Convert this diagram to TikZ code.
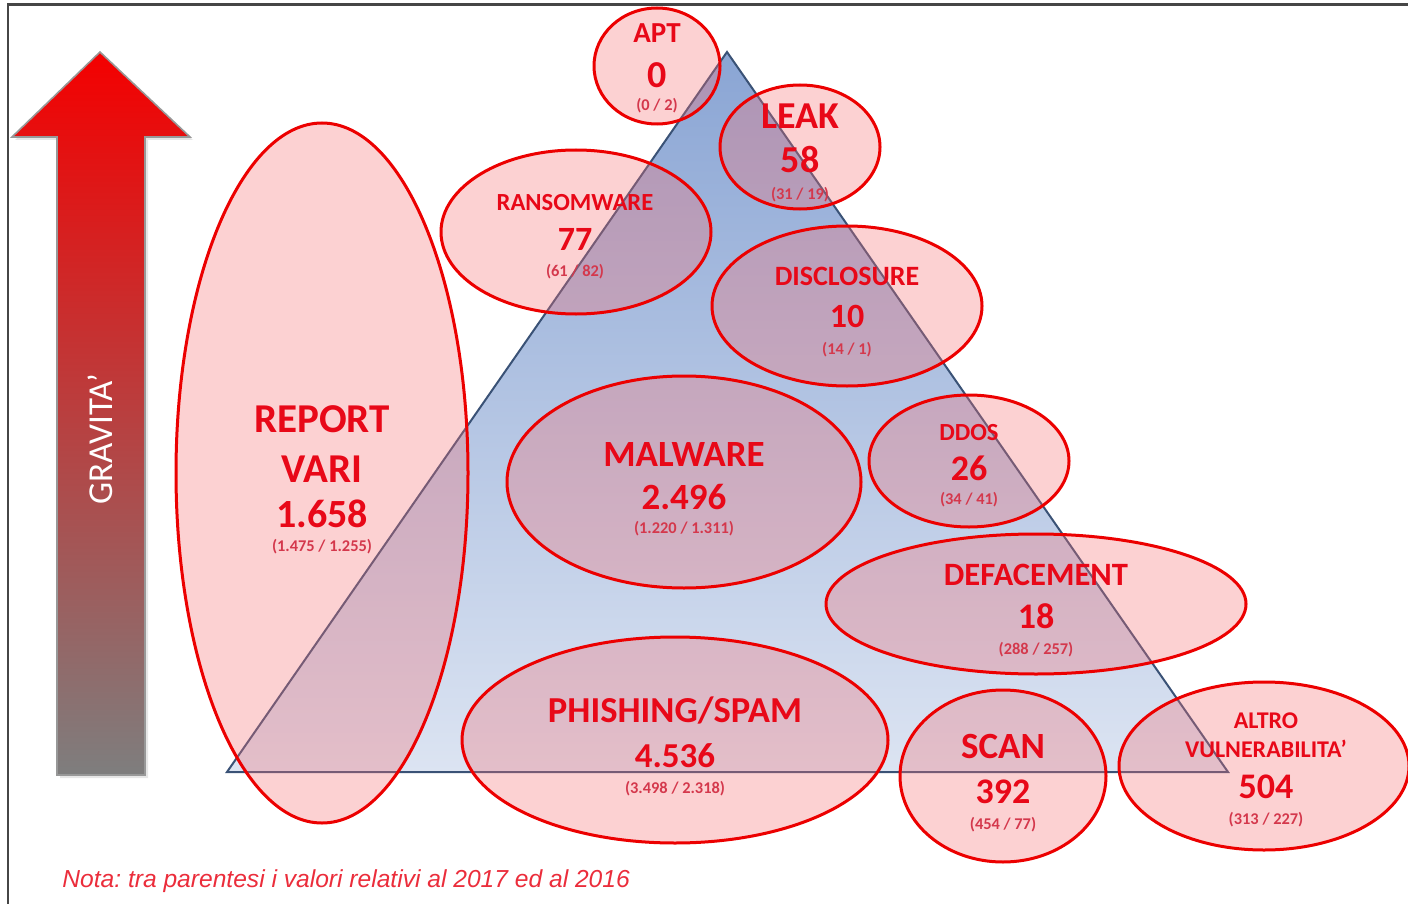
\documentclass[tikz,border=0pt]{standalone}
\usepackage{fontspec}
\setmainfont{Carlito}
\newfontfamily\notefont{Liberation Sans}
\usetikzlibrary{shapes.geometric,shadows}
\definecolor{certRed}{RGB}{232,8,24}
\definecolor{certSoft}{RGB}{212,56,76}
\definecolor{certLine}{RGB}{236,0,0}
\definecolor{certPink}{RGB}{245,112,116}
\definecolor{pyrTop}{RGB}{138,165,212}
\definecolor{pyrBottom}{RGB}{220,228,242}
\definecolor{pyrEdge}{RGB}{58,82,118}
\definecolor{arrowRed}{RGB}{244,0,0}
\definecolor{arrowGray}{RGB}{126,126,126}
\definecolor{frameInk}{RGB}{70,70,70}
\tikzset{
  cert oval/.style={ellipse, draw=certLine, line width=1.5pt, fill=certPink,
    fill opacity=0.32, inner sep=0pt},
  cert label/.style={font=\bfseries\fontsize{#1}{#1}\selectfont, text=certRed,
    inner sep=0pt, anchor=base},
  cert label/.default=17,
  cert prev/.style={font=\bfseries\fontsize{8.2}{8.2}\selectfont, text=certSoft,
    inner sep=0pt, anchor=base},
  cert note/.style={font=\notefont\itshape\fontsize{12.3}{12.3}\selectfont\frenchspacing,
    text=certRed!85, inner sep=0pt, anchor=base west}
}

\begin{document}
\begin{tikzpicture}[x=0.5pt,y=-0.5pt]
  \useasboundingbox (0,0) rectangle (1408,904);
  \draw[frameInk, line width=1.2pt] (8,904) |- (1408,4.5);

  % severity arrow
  \shadedraw[top color=arrowRed, bottom color=arrowGray, draw=arrowGray!80,
    line width=0.8pt, drop shadow={opacity=0.2, shadow xshift=1.5pt, shadow yshift=-1.5pt}]
    (100,52) -- (190,137) -- (145,137) -- (145,775) -- (57,775) -- (57,137)
    -- (12,137) -- cycle;
  \node[rotate=90, text=white, font=\fontsize{17.5}{17.5}\selectfont, inner sep=0pt]
    (gravity) at (100,439) {GRAVITA'};

  % pyramid
  \shadedraw[top color=pyrTop, bottom color=pyrBottom, draw=pyrEdge, line width=1pt]
    (727,52) -- (227,772) -- (1228,772) -- cycle;

  % event ovals
  \node[cert oval, minimum width=146pt, minimum height=350pt] (report) at (322,473) {};
  \node[cert oval, minimum width=63pt, minimum height=58pt] (apt) at (657,66) {};
  \node[cert oval, minimum width=80pt, minimum height=62pt] (leak) at (800,147) {};
  \node[cert oval, minimum width=135pt, minimum height=82pt] (ransom) at (576,232) {};
  \node[cert oval, minimum width=135pt, minimum height=80pt] (disclose) at (847,306) {};
  \node[cert oval, minimum width=177pt, minimum height=106pt] (malware) at (684,482) {};
  \node[cert oval, minimum width=100pt, minimum height=66pt] (ddos) at (969,461) {};
  \node[cert oval, minimum width=210pt, minimum height=70pt] (deface) at (1036,604) {};
  \node[cert oval, minimum width=213pt, minimum height=103pt] (phish) at (675,740) {};
  \node[cert oval, minimum width=103pt, minimum height=86pt] (scan) at (1003,776) {};
  \node[cert oval, minimum width=145pt, minimum height=84pt] (altro) at (1264,766) {};

  % counts 2018, (2017 / 2016)
  \node[cert label=14.5] (apt-name) at (657,43) {APT};
  \node[cert label=19] (apt-num) at (657,88) {0};
  \node[cert prev] (apt-prev) at (657,111) {(0 / 2)};

  \node[cert label=19] (leak-name) at (800,128) {LEAK};
  \node[cert label=19] (leak-num) at (800,172) {58};
  \node[cert prev] (leak-prev) at (800,199) {(31 / 19)};

  \node[cert label=12.3] (ransom-name) at (575,210) {RANSOMWARE};
  \node[cert label] (ransom-num) at (575,250) {77};
  \node[cert prev] (ransom-prev) at (575,276) {(61 / 82)};

  \node[cert label=14] (disclose-name) at (847,285) {DISCLOSURE};
  \node[cert label] (disclose-num) at (847,327) {10};
  \node[cert prev] (disclose-prev) at (847,354) {(14 / 1)};

  \node[cert label=20.5] (report-name) at (322,432) {REPORT};
  \node[cert label=20.5] (report-sub) at (322,482) {VARI};
  \node[cert label=20] (report-num) at (322,527) {1.658};
  \node[cert prev] (report-prev) at (322,551) {(1.475 / 1.255)};

  \node[cert label=18.5] (malware-name) at (684,466) {MALWARE};
  \node[cert label=18.5] (malware-num) at (684,509) {2.496};
  \node[cert prev] (malware-prev) at (684,533) {(1.220 / 1.311)};

  \node[cert label=12.3] (ddos-name) at (969,440) {DDOS};
  \node[cert label=18] (ddos-num) at (969,480) {26};
  \node[cert prev] (ddos-prev) at (969,504) {(34 / 41)};

  \node[cert label=16.3] (deface-name) at (1036,585) {DEFACEMENT};
  \node[cert label=18] (deface-num) at (1036,628) {18};
  \node[cert prev] (deface-prev) at (1036,654) {(288 / 257)};

  \node[cert label=18.3] (phish-name) at (675,722) {PHISHING/SPAM};
  \node[cert label=17.5] (phish-num) at (675,767) {4.536};
  \node[cert prev] (phish-prev) at (675,793) {(3.498 / 2.318)};

  \node[cert label=18.5] (scan-name) at (1003,758) {SCAN};
  \node[cert label=18] (scan-num) at (1003,803) {392};
  \node[cert prev] (scan-prev) at (1003,829) {(454 / 77)};

  \node[cert label=12] (altro-name) at (1266,728) {ALTRO};
  \node[cert label=12] (altro-sub) at (1266,757) {VULNERABILITA'};
  \node[cert label=18] (altro-num) at (1266,798) {504};
  \node[cert prev] (altro-prev) at (1266,824) {(313 / 227)};

  \node[cert note] (note) at (62,887) {Nota: tra parentesi i valori relativi al 2017 ed al 2016};
\end{tikzpicture}
\end{document}
